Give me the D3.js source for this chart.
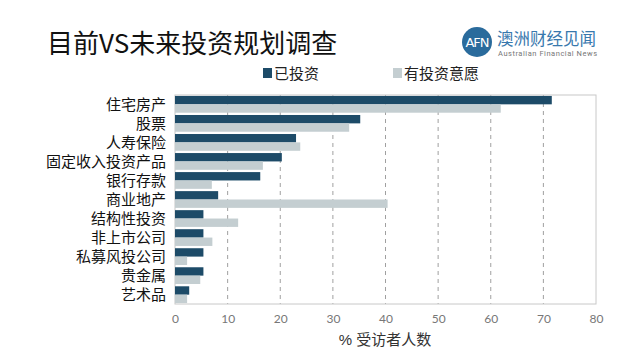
<!DOCTYPE html>
<html>
<head>
<meta charset="utf-8">
<script src="https://cdn.jsdelivr.net/npm/d3@7"></script>
<style>
  body { margin: 0; background: #fff; }
  svg { display: block; font-family: "Liberation Sans", "Noto Sans CJK SC", sans-serif; }
</style>
</head>
<body>
<div id="chart"></div>
<script>
const categories = ["住宅房产", "股票", "人寿保险", "固定收入投资产品", "银行存款", "商业地产",
  "结构性投资", "非上市公司", "私募风投公司", "贵金属", "艺术品"];
const invested = [71.6, 35.2, 23.0, 20.3, 16.2, 8.2, 5.4, 5.4, 5.4, 5.4, 2.7];
const planned = [61.9, 33.1, 23.8, 16.7, 7.0, 40.4, 12.0, 7.1, 2.3, 4.8, 2.3];
const xTicks = [0, 10, 20, 30, 40, 50, 60, 70, 80];
const seriesNames = ["已投资", "有投资意愿"];

const DARK = "#1d4b68";
const LIGHT = "#c4ced1";

const width = 640;
const height = 361;
const plotLeft = 175, plotRight = 596, plotTop = 95, plotBottom = 304;

const svg = d3.select("#chart").append("svg")
  .attr("width", width)
  .attr("height", height);

// title
svg.append("text")
  .attr("x", 47).attr("y", 53)
  .attr("font-size", 26).attr("font-weight", 400)
  .attr("font-family", "'Noto Sans CJK SC', sans-serif")
  .attr("fill", "#111")
  .text("目前VS未来投资规划调查");

// logo
svg.append("circle").attr("cx", 477).attr("cy", 42).attr("r", 15).attr("fill", "#2a6b9c");
svg.append("text").attr("x", 477).attr("y", 47).attr("text-anchor", "middle")
  .attr("font-size", 13).attr("fill", "#fff").attr("font-family", "DejaVu Sans")
  .attr("letter-spacing", -1).text("AFN");
svg.append("text").attr("x", 497).attr("y", 45)
  .attr("font-size", 16.5).attr("fill", "#3878ad").text("澳洲财经见闻");
svg.append("text").attr("x", 498).attr("y", 56)
  .attr("font-size", 7.5).attr("fill", "#777").attr("font-family", "Roboto")
  .attr("textLength", 99)
  .text("Australian Financial News");

// legend
const legend = svg.append("g");
[[263, DARK], [393, LIGHT]].forEach(function (d, i) {
  legend.append("rect").attr("x", d[0]).attr("y", 68).attr("width", 9).attr("height", 10).attr("fill", d[1]);
  legend.append("text").attr("x", d[0] + 11).attr("y", 79)
    .attr("font-size", 15).attr("fill", "#222").text(seriesNames[i]);
});

const x = d3.scaleLinear().domain([0, 80]).range([plotLeft, plotRight]);
const y = d3.scaleBand().domain(categories).range([plotTop, plotBottom]).paddingInner(0.12).paddingOuter(0.05);

// grid
svg.append("g")
  .selectAll("line")
  .data(xTicks.slice(1, -1))
  .enter().append("line")
  .attr("x1", d => x(d)).attr("x2", d => x(d))
  .attr("y1", plotTop).attr("y2", plotBottom)
  .attr("stroke", "#888").attr("stroke-width", 0.8)
  .attr("stroke-dasharray", "4,4");

// frame
svg.append("rect")
  .attr("x", plotLeft).attr("y", plotTop)
  .attr("width", plotRight - plotLeft).attr("height", plotBottom - plotTop)
  .attr("fill", "none").attr("stroke", "#c8c8c8").attr("stroke-width", 1);

const bh = y.bandwidth() / 2;
const bars = svg.append("g");
bars.selectAll(".dark").data(categories).enter().append("rect")
  .attr("x", x(0)).attr("y", d => y(d))
  .attr("width", (d, i) => x(invested[i]) - x(0))
  .attr("height", bh).attr("fill", DARK);
bars.selectAll(".light").data(categories).enter().append("rect")
  .attr("x", x(0)).attr("y", d => y(d) + bh)
  .attr("width", (d, i) => x(planned[i]) - x(0))
  .attr("height", bh).attr("fill", LIGHT);

// category labels
svg.append("g")
  .selectAll("text")
  .data(categories)
  .enter().append("text")
  .attr("x", 166)
  .attr("y", d => y(d) + y.bandwidth() / 2 + 5.5)
  .attr("text-anchor", "end")
  .attr("font-size", 15).attr("font-weight", 400).attr("fill", "#111")
  .text(d => d);

// x axis
const xAxis = svg.append("g")
  .attr("transform", "translate(0," + plotBottom + ")")
  .call(d3.axisBottom(x).tickValues(xTicks).tickSize(0).tickPadding(10));
xAxis.select(".domain").remove();
xAxis.selectAll("text").attr("font-size", 12).attr("fill", "#777")
  .attr("font-family", "Lato");

svg.append("text")
  .attr("x", 385).attr("y", 345)
  .attr("text-anchor", "middle")
  .attr("font-size", 15).attr("fill", "#333")
  .text("% 受访者人数");
</script>
</body>
</html>
